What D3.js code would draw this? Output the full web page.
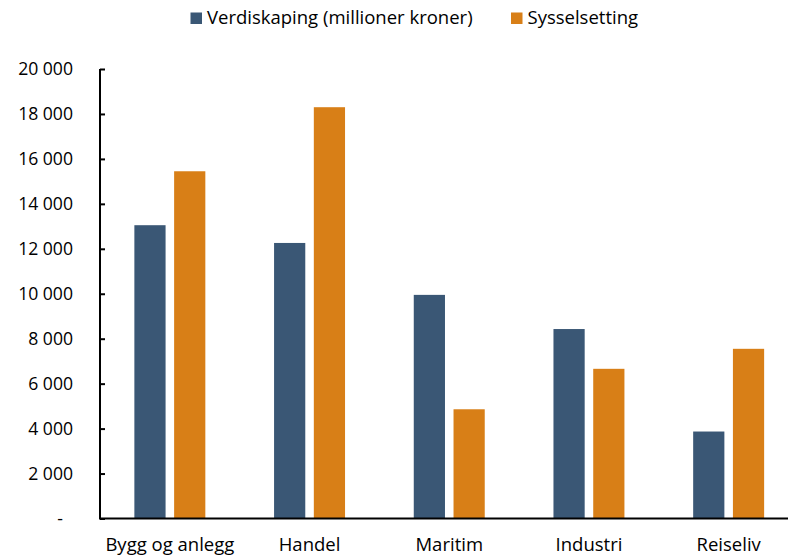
<!DOCTYPE html>
<html><head><meta charset="utf-8">
<script src="https://cdn.jsdelivr.net/npm/d3@7"></script>
<style>
html,body{margin:0;padding:0;background:#fff;}
svg{display:block;}
text{font-family:"Open Sans",Lato,sans-serif;fill:#000;}
</style></head>
<body>
<svg id="chart" width="788" height="557"></svg>
<script>
const categories = ["Bygg og anlegg","Handel","Maritim","Industri","Reiseliv"];
const seriesNames = ["Verdiskaping (millioner kroner)","Sysselsetting"];
const verdiskaping = [13050, 12260, 9950, 8430, 3870];
const sysselsetting = [15450, 18300, 4860, 6660, 7550];
const yTicks = [0,2000,4000,6000,8000,10000,12000,14000,16000,18000,20000];
const colors = ["#3a5775","#d87f17"];

const FONT = "Open Sans";
const svg = d3.select("#chart");
const x0 = 100, x1 = 798.5, yTop = 69, yBase = 518.5;

const y = d3.scaleLinear().domain([0,20000]).range([yBase, yTop]);
const x = d3.scaleBand().domain(categories).range([x0, x1]).paddingInner(0.492).paddingOuter(0.246);
const xs = d3.scaleBand().domain(seriesNames).range([0, x.bandwidth()]).paddingInner(0.215).paddingOuter(0);

const rows = categories.map((c,i)=>({cat:c, vals:[verdiskaping[i], sysselsetting[i]]}));

const g = svg.append("g");
rows.forEach(r=>{
  g.selectAll(null).data(r.vals.map((v,j)=>({s:seriesNames[j], v, j}))).enter().append("rect")
    .attr("x", d=>x(r.cat)+xs(d.s))
    .attr("width", xs.bandwidth())
    .attr("y", d=>y(d.v))
    .attr("height", d=>yBase-y(d.v))
    .attr("fill", d=>colors[d.j]);
});

// y axis
const fmt = v => v===0 ? "-" : d3.format(",")(v).replace(/,/g, " ");
const yAxis = d3.axisLeft(y).tickValues(yTicks).tickSize(-5).tickPadding(27).tickFormat(fmt);
const ya = svg.append("g").attr("transform",`translate(${x0},0)`).call(yAxis);
ya.select(".domain").attr("stroke","#000").attr("stroke-width",2).attr("d",`M0,${yTop}V${yBase}`);
ya.selectAll(".tick line").attr("stroke","#000").attr("stroke-width",2);
ya.selectAll(".tick text").attr("font-size",17.6).attr("font-family",FONT).attr("fill","#000")
  .attr("dx", d=> d===0 ? -10 : 0);

// x axis
const xAxis = d3.axisBottom(x).tickSize(0).tickPadding(19.5);
const xa = svg.append("g").attr("transform",`translate(0,${yBase})`).call(xAxis);
xa.select(".domain").attr("stroke","#000").attr("stroke-width",2).attr("d",`M${x0-1},0H788`);
xa.selectAll(".tick text").attr("font-size",18.5).attr("font-family",FONT).attr("fill","#000");

// legend
const leg = svg.append("g");
const legItems = [{name:seriesNames[0], x:190.5},{name:seriesNames[1], x:511}];
legItems.forEach((d,i)=>{
  leg.append("rect").attr("x",d.x).attr("y",12.5).attr("width",11.5).attr("height",11.5).attr("fill",colors[i]);
  leg.append("text").attr("x",d.x+16.5).attr("y",24).attr("font-size",18.5).attr("font-family",FONT).text(d.name);
});
</script>
</body></html>
